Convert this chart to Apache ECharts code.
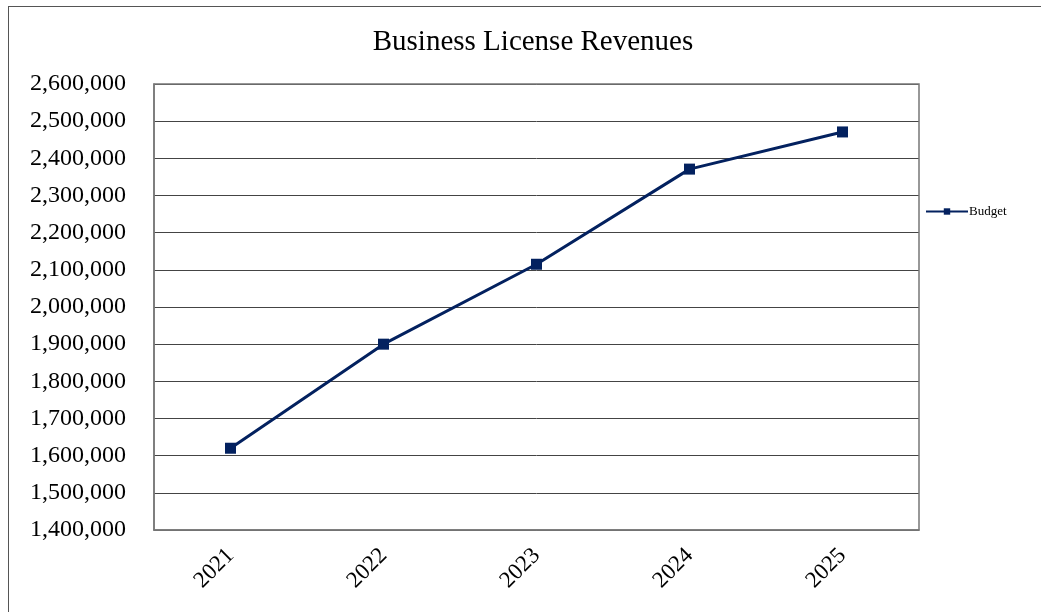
<!DOCTYPE html>
<html>
<head>
<meta charset="utf-8">
<script src="https://cdn.jsdelivr.net/npm/echarts@6/dist/echarts.min.js"></script>
<style>
  html, body { margin: 0; padding: 0; background: #fff; }
  #frame { position: absolute; left: 8px; top: 6px; width: 1040px; height: 620px; border: 1.5px solid #555; box-sizing: border-box; }
  #chart { position: absolute; left: 0; top: 0; width: 1041px; height: 612px; }
</style>
</head>
<body>
<div id="frame"></div>
<div id="chart"></div>
<script>
// Business license revenue by fiscal year
const years = ['2021', '2022', '2023', '2024', '2025'];
const budget = [1620000, 1900000, 2115000, 2371000, 2471000];
const seriesName = 'Budget';
const titleText = 'Business License Revenues';

const chart = echarts.init(document.getElementById('chart'), null, { renderer: 'canvas' });
const serif = '"Liberation Serif", "Times New Roman", serif';

chart.setOption({
  backgroundColor: 'transparent',
  animation: false,
  title: {
    text: titleText,
    left: 528,
    top: 23,
    textAlign: 'center',
    textStyle: { fontFamily: serif, fontSize: 29, fontWeight: 'normal', color: '#000' }
  },
  legend: {
    data: [seriesName],
    left: 920,
    top: 200,
    itemWidth: 42,
    itemHeight: 8,
    itemGap: 2,
    textStyle: { fontFamily: serif, fontSize: 13, color: '#000', padding: [0, 0, 0, -4] }
  },
  grid: { left: 154, top: 84, width: 765, height: 446, containLabel: false },
  xAxis: {
    type: 'category',
    data: years,
    boundaryGap: true,
    axisLine: { show: true, lineStyle: { color: '#777', width: 1.5 } },
    axisTick: { show: false },
    axisLabel: {
      rotate: 45,
      margin: 22,
      fontFamily: serif,
      fontSize: 23,
      color: '#000'
    }
  },
  yAxis: {
    type: 'value',
    min: 1400000,
    max: 2600000,
    interval: 100000,
    axisLine: { show: true, lineStyle: { color: '#777', width: 1.5 } },
    axisTick: { show: false },
    splitLine: { show: true, lineStyle: { color: '#444', width: 1 } },
    axisLabel: {
      margin: 28,
      fontFamily: serif,
      fontSize: 24,
      color: '#000',
      formatter: v => v.toLocaleString('en-US')
    }
  },
  series: [{
    name: seriesName,
    type: 'line',
    data: budget,
    symbol: 'rect',
    symbolSize: 11,
    lineStyle: { color: '#03215f', width: 3 },
    itemStyle: { color: '#03215f' }
  }]
});

// outline of the plot area
chart.setOption({
  graphic: [{
    type: 'rect',
    shape: { x: 154, y: 84, width: 765, height: 446 },
    style: { fill: 'none', stroke: '#777', lineWidth: 1.5 },
    silent: true,
    z: 0
  }]
});
</script>
</body>
</html>
